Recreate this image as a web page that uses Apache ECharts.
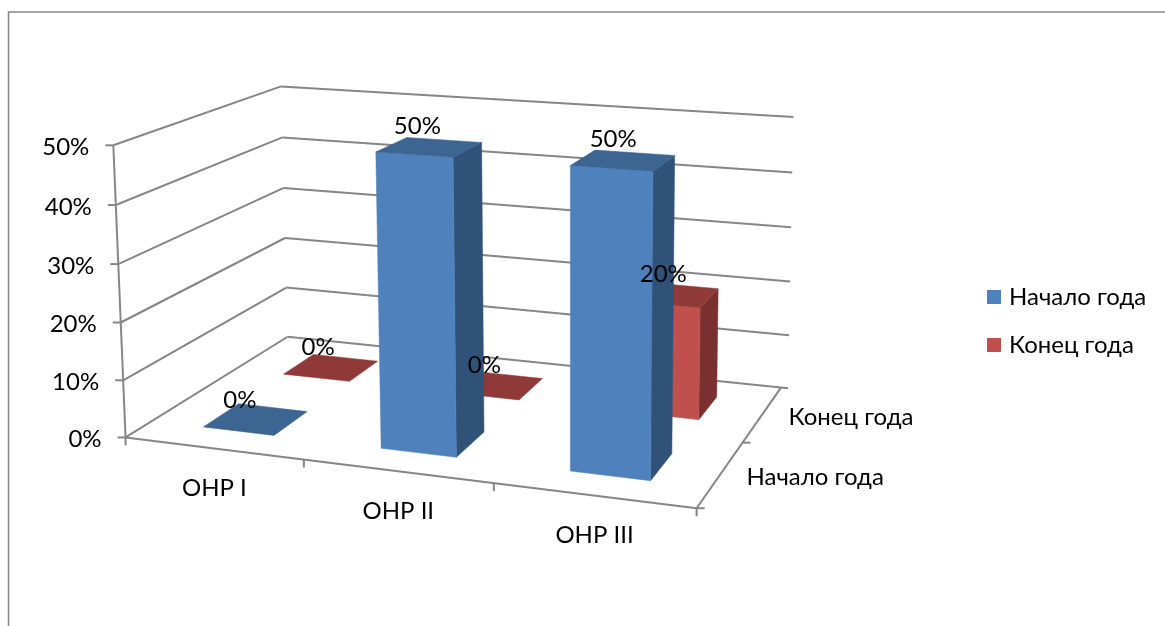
<!DOCTYPE html>
<html><head><meta charset="utf-8">
<style>html,body{margin:0;padding:0;background:#fff}#c{width:1165px;height:626px}</style>
<script src="https://cdn.jsdelivr.net/npm/echarts@6/dist/echarts.min.js"></script>
</head><body><div id="c"></div>
<script>
const categories = ['ОНР I', 'ОНР II', 'ОНР III'];
const seriesNames = ['Начало года', 'Конец года'];
const startOfYear = [0, 50, 50];
const endOfYear = [0, 0, 20];
const yTicks = [0, 10, 20, 30, 40, 50];
const yMax = 50;

const FONT = 'Lato';
const FS = 24;
const LINE = '#868686';
const FACES = [
  { front: '#4F81BD', top: '#3C6591', side: '#305279' },
  { front: '#C0504D', top: '#8F3A38', side: '#7A302E' }
];
const BAR_W = 0.405, BAR_D = 0.42;
// perspective frame: [x along categories, y height, z depth] -> screen, fitted by least squares
const ANCHORS = [
  [0,0,0,126,437],[1,0,0,697,508],[1,0,1,781,388],[0,0,1,287,337],
  [0,1,0,112.5,146],[0,1,1,282,86],[1,1,1,786,116.5]
];
function solve(A, b) {
  const n = b.length, M = A.map((r, i) => r.concat(b[i]));
  for (let i = 0; i < n; i++) {
    let m = i;
    for (let k = i + 1; k < n; k++) if (Math.abs(M[k][i]) > Math.abs(M[m][i])) m = k;
    [M[i], M[m]] = [M[m], M[i]];
    for (let k = i + 1; k < n; k++) {
      const f = M[k][i] / M[i][i];
      for (let j = i; j <= n; j++) M[k][j] -= f * M[i][j];
    }
  }
  const x = new Array(n);
  for (let i = n - 1; i >= 0; i--) {
    let s = M[i][n];
    for (let j = i + 1; j < n; j++) s -= M[i][j] * x[j];
    x[i] = s / M[i][i];
  }
  return x;
}
const P = (function () {
  const rows = [], rhs = [];
  ANCHORS.forEach(([x, y, z, u, v]) => {
    u /= 1000; v /= 1000;
    rows.push([x, y, z, 1, 0, 0, 0, 0, -u * x, -u * y, -u * z]); rhs.push(u);
    rows.push([0, 0, 0, 0, x, y, z, 1, -v * x, -v * y, -v * z]); rhs.push(v);
  });
  const N = 11, AtA = [], Atb = [];
  for (let i = 0; i < N; i++) {
    AtA.push(new Array(N).fill(0)); Atb.push(0);
    rows.forEach((r, k) => {
      Atb[i] += r[i] * rhs[k];
      for (let j = 0; j < N; j++) AtA[i][j] += r[i] * r[j];
    });
  }
  return solve(AtA, Atb);
})();
function proj(x, y, z) {
  const w = P[8] * x + P[9] * y + P[10] * z + 1;
  return [1000 * (P[0] * x + P[1] * y + P[2] * z + P[3]) / w,
          1000 * (P[4] * x + P[5] * y + P[6] * z + P[7]) / w];
}
// read the flat grid's scales and normalise them to the 0..1 box
function norm(api, cat, val) {
  const c = api.coord([cat, val]);
  return [c[0] / 1165, 1 - c[1] / 626];
}
function poly(pts, fill, z2) {
  return { type: 'polygon', shape: { points: pts }, style: { fill: fill, stroke: fill, lineWidth: 0.5 }, z2: z2 };
}
function line(a, b, z2) {
  return { type: 'line', shape: { x1: a[0], y1: a[1], x2: b[0], y2: b[1] }, style: { stroke: LINE, lineWidth: 2 }, z2: z2 || 1 };
}
function text(str, p, align, z2) {
  return { type: 'text', x: p[0], y: p[1], z2: z2 || 5,
    style: { text: str, fill: '#000', font: FS + 'px ' + FONT, align: align || 'center', verticalAlign: 'middle' } };
}
function barRenderer(row) {
  return function (params, api) {
    const cat = api.value(0), n = norm(api, cat, api.value(1));
    const bw = api.size([1, 0])[0] / 1165 * BAR_W;
    const x0 = n[0] - bw / 2, x1 = n[0] + bw / 2, h = n[1];
    const zc = (row + 0.5) / 2, z0 = zc - BAR_D / 4, z1 = zc + BAR_D / 4;
    const base = cat * 4;
    const kids = [];
    if (h > 0.0001) {
      kids.push(poly([proj(x1, 0, z0), proj(x1, 0, z1), proj(x1, h, z1), proj(x1, h, z0)], FACES[row].side, base + 1));
      kids.push(poly([proj(x0, 0, z0), proj(x1, 0, z0), proj(x1, h, z0), proj(x0, h, z0)], FACES[row].front, base + 2));
    }
    kids.push(poly([proj(x0, h, z0), proj(x1, h, z0), proj(x1, h, z1), proj(x0, h, z1)], FACES[row].top, base + 3));
    return { type: 'group', children: kids };
  };
}
const labelNudge = { '0-0': [-16, -19], '1-0': [-12, -21], '2-0': [-10, -21], '0-1': [-13, -20], '1-1': [-12, -20], '2-1': [-9, -20] };
const labelData = [];
startOfYear.forEach((v, i) => labelData.push([i, v, 0]));
endOfYear.forEach((v, i) => labelData.push([i, v, 1]));

const option = {
  animation: false,
  backgroundColor: '#fff',
  grid: { left: 0, right: 0, top: 0, bottom: 0 },
  xAxis: { type: 'category', data: categories, show: false },
  yAxis: { type: 'value', min: 0, max: yMax, interval: 10, show: false },
  legend: {
    data: seriesNames, orient: 'vertical', left: 982, top: 280, itemWidth: 14, itemHeight: 14, itemGap: 24,
    icon: 'rect', selectedMode: false, textStyle: { fontFamily: FONT, fontSize: FS, color: '#000', padding: [0, 0, 0, 3] }, itemStyle: { borderWidth: 0 }
  },
  graphic: [
    { type: 'polyline', silent: true, shape: { points: [[8.5, 626], [8.5, 12], [1165, 12]] }, style: { fill: 'none', stroke: LINE, lineWidth: 1.5 } }
  ],
  series: [
    { name: 'grid', type: 'custom', z: 1, silent: true, data: yTicks.map(t => [0, t]), encode: { x: 0, y: 1 },
      renderItem: function (params, api) {
        const h = norm(api, 0, api.value(1))[1];
        const a = proj(0, h, 0), b = proj(0, h, 1), c = proj(1, h, 1);
        const e = [c[0] + 7, c[1] + 7 * (c[1] - b[1]) / (c[0] - b[0])];
        const kids = [line([a[0] - 8, a[1]], a), line(a, b), line(b, e),
          text(api.value(1) + '%', [a[0] - 24, a[1] + 2], 'right')];
        if (h === 0) {
          const d = proj(1, 0, 0), l = proj(0, 1, 0);
          kids.push(line(a, l), line(a, d), line(d, c), line(a, [a[0], a[1] + 8]), line(d, [d[0], d[1] + 8]), line(d, [d[0] + 8, d[1]]));
        }
        return { type: 'group', children: kids };
      } },
    { name: 'cats', type: 'custom', z: 1, silent: true, data: categories.map((c, i) => [i, 0]), encode: { x: 0, y: 1 },
      renderItem: function (params, api) {
        const i = api.value(0), n = norm(api, i, 0), bw = api.size([1, 0])[0] / 1165;
        const p = proj(n[0], 0, 0), kids = [text(categories[i], [p[0] + 1, p[1] + 40])];
        if (i < categories.length - 1) {
          const t = proj(n[0] + bw / 2, 0, 0);
          kids.push(line(t, [t[0], t[1] + 8]));
        }
        return { type: 'group', children: kids };
      } },
    { name: 'rows', type: 'custom', z: 1, silent: true, data: seriesNames.map((s, i) => [0, i]), encode: { x: 0 },
      renderItem: function (params, api) {
        const i = api.value(1), p = proj(1, 0, (i + 0.5) / 2), kids = [text(seriesNames[i], [p[0] + 26, p[1] + 3], 'left')];
        if (i === 0) { const t = proj(1, 0, 0.5); kids.push(line(t, [t[0] + 8, t[1]])); }
        return { type: 'group', children: kids };
      } },
    { name: seriesNames[1], type: 'custom', z: 2, itemStyle: { color: FACES[1].front }, encode: { x: 0, y: 1 },
      data: endOfYear.map((v, i) => [i, v]), renderItem: barRenderer(1) },
    { name: seriesNames[0], type: 'custom', z: 3, itemStyle: { color: FACES[0].front }, encode: { x: 0, y: 1 },
      data: startOfYear.map((v, i) => [i, v]), renderItem: barRenderer(0) },
    { name: 'labels', type: 'custom', z: 5, silent: true, data: labelData, encode: { x: 0, y: 1 },
      renderItem: function (params, api) {
        const cat = api.value(0), val = api.value(1), row = api.value(2), n = norm(api, cat, val);
        const p = proj(n[0], n[1], (row + 0.5) / 2), o = labelNudge[cat + '-' + row];
        return text(val + '%', [p[0] + o[0], p[1] + o[1]]);
      } }
  ]
};
echarts.init(document.getElementById('c'), null, { renderer: 'canvas' }).setOption(option);
</script></body></html>
